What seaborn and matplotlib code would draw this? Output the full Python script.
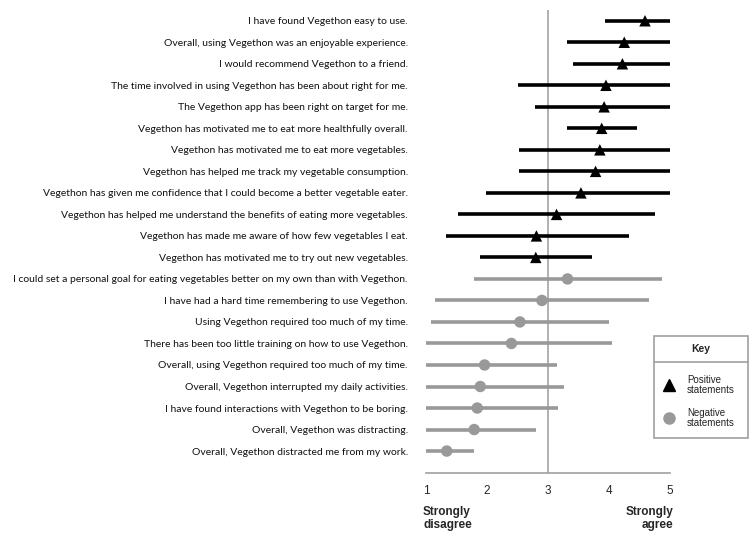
import matplotlib
matplotlib.use("Agg")
import matplotlib.pyplot as plt
import seaborn as sns
import pandas as pd
import numpy as np
from matplotlib.patches import Rectangle
from matplotlib.lines import Line2D

statements = [
    "I have found Vegethon easy to use.",
    "Overall, using Vegethon was an enjoyable experience.",
    "I would recommend Vegethon to a friend.",
    "The time involved in using Vegethon has been about right for me.",
    "The Vegethon app has been right on target for me.",
    "Vegethon has motivated me to eat more healthfully overall.",
    "Vegethon has motivated me to eat more vegetables.",
    "Vegethon has helped me track my vegetable consumption.",
    "Vegethon has given me confidence that I could become a better vegetable eater.",
    "Vegethon has helped me understand the benefits of eating more vegetables.",
    "Vegethon has made me aware of how few vegetables I eat.",
    "Vegethon has motivated me to try out new vegetables.",
    "I could set a personal goal for eating vegetables better on my own than with Vegethon.",
    "I have had a hard time remembering to use Vegethon.",
    "Using Vegethon required too much of my time.",
    "There has been too little training on how to use Vegethon.",
    "Overall, using Vegethon required too much of my time.",
    "Overall, Vegethon interrupted my daily activities.",
    "I have found interactions with Vegethon to be boring.",
    "Overall, Vegethon was distracting.",
    "Overall, Vegethon distracted me from my work.",
]
kind = ["Positive statements"] * 12 + ["Negative statements"] * 9
mean = [4.59, 4.25, 4.22, 3.95, 3.92, 3.88, 3.85, 3.78, 3.54, 3.14, 2.81, 2.80,
        3.32, 2.90, 2.54, 2.40, 1.96, 1.89, 1.84, 1.79, 1.34]
lower = [3.93, 3.31, 3.41, 2.50, 2.79, 3.31, 2.53, 2.53, 1.99, 1.52, 1.32, 1.89,
         1.78, 1.15, 1.08, 1.00, 1.00, 1.00, 1.00, 1.00, 1.00]
upper = [5.00, 5.00, 5.00, 5.00, 5.00, 4.46, 5.00, 5.00, 5.00, 4.76, 4.33, 3.72,
         4.87, 4.66, 4.00, 4.05, 3.14, 3.26, 3.17, 2.80, 1.78]
xticks = [1, 2, 3, 4, 5]

df = pd.DataFrame({"statement": statements, "kind": kind, "mean": mean,
                   "lower": lower, "upper": upper})
df["pos"] = np.arange(len(df))

BLACK = "#000000"
GRAY = "#999999"
colors = {"Positive statements": BLACK, "Negative statements": GRAY}
markers = {"Positive statements": "^", "Negative statements": "o"}

sns.set_style("white")
plt.rcParams["font.family"] = ["Liberation Sans", "DejaVu Sans"]

W, H = 755, 551
fig = plt.figure(figsize=(W / 100, H / 100), dpi=100)
ax = fig.add_axes([426 / W, 1 - 473 / H, (670 - 426) / W, (473 - 10) / H])

# centre line
ax.axvline(3, color="#aaaaaa", lw=1.3, zorder=0)

for k, sub in df.groupby("kind"):
    ax.hlines(sub["pos"], sub["lower"], sub["upper"], color=colors[k], lw=2.6,
              zorder=2, clip_on=False)

sns.scatterplot(data=df, x="mean", y="pos", hue="kind", style="kind",
                palette=colors, markers=markers, s=68, edgecolor="none",
                legend=False, ax=ax, zorder=3, clip_on=False)

ax.set_xlim(1, 5)
ax.set_ylim(len(df) - 1 + 1.02, -0.5)
ax.set_xticks(xticks)
ax.set_xticks(np.arange(1.5, 5, 1.0), minor=True)
ax.set_xticklabels([str(t) for t in xticks], fontsize=8.5)
ax.set_yticks(df["pos"])
ylabels = ax.set_yticklabels(df["statement"], family=["Lato", "DejaVu Sans"],
                             fontsize=10)
ax.tick_params(axis="y", length=0, pad=13)
ax.tick_params(axis="x", which="both", direction="out", length=4, width=1,
               color="#a0a0a0", pad=5)
ax.set_xlabel("")
ax.set_ylabel("")
for s in ["top", "right", "left"]:
    ax.spines[s].set_visible(False)
ax.spines["bottom"].set_color("#a0a0a0")
ax.spines["bottom"].set_linewidth(1.2)

# fit label font so the longest label spans ~398 px as in the reference
fig.canvas.draw()
r = fig.canvas.get_renderer()
wmax = max(t.get_window_extent(r).width for t in ylabels)
fs = 10 * 396 / wmax
for t in ylabels:
    t.set_fontsize(fs)
    t.set_color("#111111")

# axis end labels
fig.text(423 / W, 1 - 506 / H, "Strongly\ndisagree", ha="left", va="top",
         fontsize=8.5, fontweight="bold", linespacing=1.1)
fig.text(673 / W, 1 - 506 / H, "Strongly\nagree", ha="right", va="top",
         fontsize=8.5, fontweight="bold", linespacing=1.1)

# key box
bx0, bx1, by0, by1, bsep = 654, 748, 336, 438, 362
fig.patches.append(Rectangle((bx0 / W, 1 - by1 / H), (bx1 - bx0) / W, (by1 - by0) / H,
                             transform=fig.transFigure, fill=False,
                             edgecolor="#a0a0a0", lw=1.2))
fig.lines.append(Line2D([bx0 / W, bx1 / W], [1 - bsep / H, 1 - bsep / H],
                        transform=fig.transFigure, color="#a0a0a0", lw=1.2))
fig.text((bx0 + bx1) / 2 / W, 1 - 349 / H, "Key", ha="center", va="center",
         fontsize=7.5, fontweight="bold")
fig.lines.append(Line2D([669 / W], [1 - 385 / H], transform=fig.transFigure,
                        marker="^", color=BLACK, markersize=8, ls="none"))
fig.lines.append(Line2D([669 / W], [1 - 418 / H], transform=fig.transFigure,
                        marker="o", color=GRAY, markersize=8, ls="none"))
fig.text(687 / W, 1 - 385 / H, "Positive\nstatements", ha="left", va="center",
         fontsize=7, color="#222222", linespacing=1.1)
fig.text(687 / W, 1 - 418 / H, "Negative\nstatements", ha="left", va="center",
         fontsize=7, color="#222222", linespacing=1.1)

fig.savefig("out.png", dpi=100)
